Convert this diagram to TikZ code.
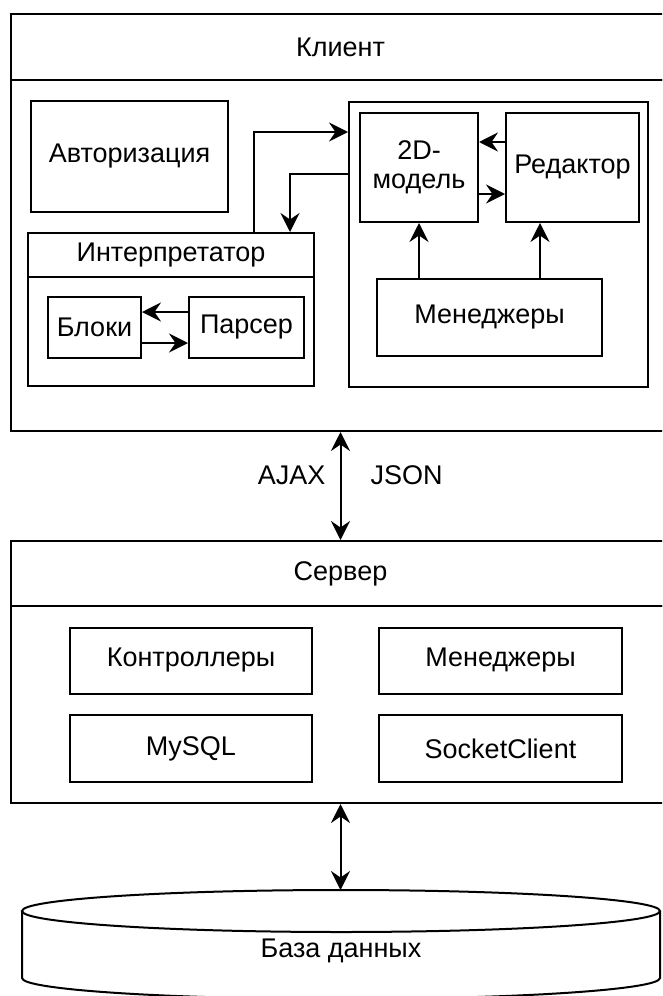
\documentclass[tikz,border=0pt]{standalone}
\usepackage{fontspec}
\setmainfont{Liberation Sans}
\usetikzlibrary{arrows.meta}

\begin{document}
\begin{tikzpicture}[
  x=1pt, y=-1pt,
  box/.style={draw, line width=2pt, inner sep=0pt, align=center, font=\fontsize{27pt}{29pt}\selectfont},
  lbl/.style={inner sep=0pt, font=\fontsize{27pt}{29pt}\selectfont},
  trans/.style={-{Stealth[length=19pt, width=19pt, inset=6.5pt]}, line width=2pt},
  dtrans/.style={{Stealth[length=19pt, width=19pt, inset=6.5pt]}-{Stealth[length=19pt, width=19pt, inset=6.5pt]}, line width=2pt},
]
  \useasboundingbox (0,0) rectangle (662,996);
  \clip (0,0) rectangle (662,996);

  % client
  \node[box, minimum width=659pt, minimum height=66pt] (clienthead) at (340.5,47) {Клиент};
  \node[box, minimum width=659pt, minimum height=351pt] (clientbody) at (340.5,255.5) {};
  \node[box, minimum width=197pt, minimum height=111pt] (auth) at (129.5,156.5) {Авторизация};
  \node[box, minimum width=286pt, minimum height=44pt] (interphead) at (171,255) {Интерпретатор};
  \node[box, minimum width=286pt, minimum height=109pt] (interpbody) at (171,331.5) {};
  \node[box, minimum width=93pt, minimum height=61pt] (blocks) at (94.5,327.5) {Блоки};
  \node[box, minimum width=115pt, minimum height=61pt] (parser) at (246.5,327.5) {Парсер};
  \node[box, minimum width=299pt, minimum height=285pt] (front) at (498.5,244.5) {};
  \node[box, minimum width=118pt, minimum height=109pt] (model) at (419,167.5) {2D-\\модель};
  \node[box, minimum width=133pt, minimum height=109pt] (editor) at (572.5,167.5) {Редактор};
  \node[box, minimum width=225pt, minimum height=77pt] (managers) at (489.5,317.5) {Менеджеры};

  \draw[trans] ([xshift=83pt]interphead.north) |- ([yshift=112.5pt]front.west);
  \draw[trans] ([yshift=70.5pt]front.west) -| ([xshift=119pt]interphead.north);
  \draw[trans] ([yshift=25.5pt]editor.west) -- ([yshift=25.5pt]model.east);
  \draw[trans] ([yshift=-26.5pt]model.east) -- ([yshift=-26.5pt]editor.west);
  \draw[trans] (managers.north -| model.south) -- (model.south);
  \draw[trans] ([xshift=50.5pt]managers.north) -- ([xshift=50.5pt]managers.north |- editor.south);
  \draw[trans] ([yshift=15.5pt]parser.west) -- ([yshift=15.5pt]blocks.east);
  \draw[trans] ([yshift=-15.5pt]blocks.east) -- ([yshift=-15.5pt]parser.west);

  % server
  \node[box, minimum width=659pt, minimum height=65pt] (serverhead) at (340.5,573.5) {Сервер};
  \node[box, minimum width=659pt, minimum height=197pt] (serverbody) at (340.5,704.5) {};
  \node[box, minimum width=242pt, minimum height=66pt] (controllers) at (191,660.5) {Контроллеры};
  \node[box, minimum width=243pt, minimum height=66pt] (srvmanagers) at (500.5,660.5) {Менеджеры};
  \node[box, minimum width=242pt, minimum height=67pt] (mysql) at (191,748.5) {MySQL};
  \node[box, minimum width=243pt, minimum height=67pt] (socket) at (500.5,748.5) {SocketClient};

  \draw[dtrans] (clientbody.south) -- (serverhead.north)
    node[lbl, pos=0.4, left=14pt] (ajax) {AJAX}
    node[lbl, pos=0.4, right=29pt] (json) {JSON};

  % database
  \draw[line width=2pt] (341,911) ellipse [x radius=319pt, y radius=21pt];
  \draw[line width=2pt] (22,911) -- (22,978) arc[start angle=180, end angle=360, x radius=319pt, y radius=21pt] -- (660,911);
  \node[lbl, anchor=base] (db) at (341,957) {База данных};
  \coordinate (dbtop) at (340.5,890);
  \draw[dtrans] (serverbody.south) -- (dbtop);
\end{tikzpicture}
\end{document}
